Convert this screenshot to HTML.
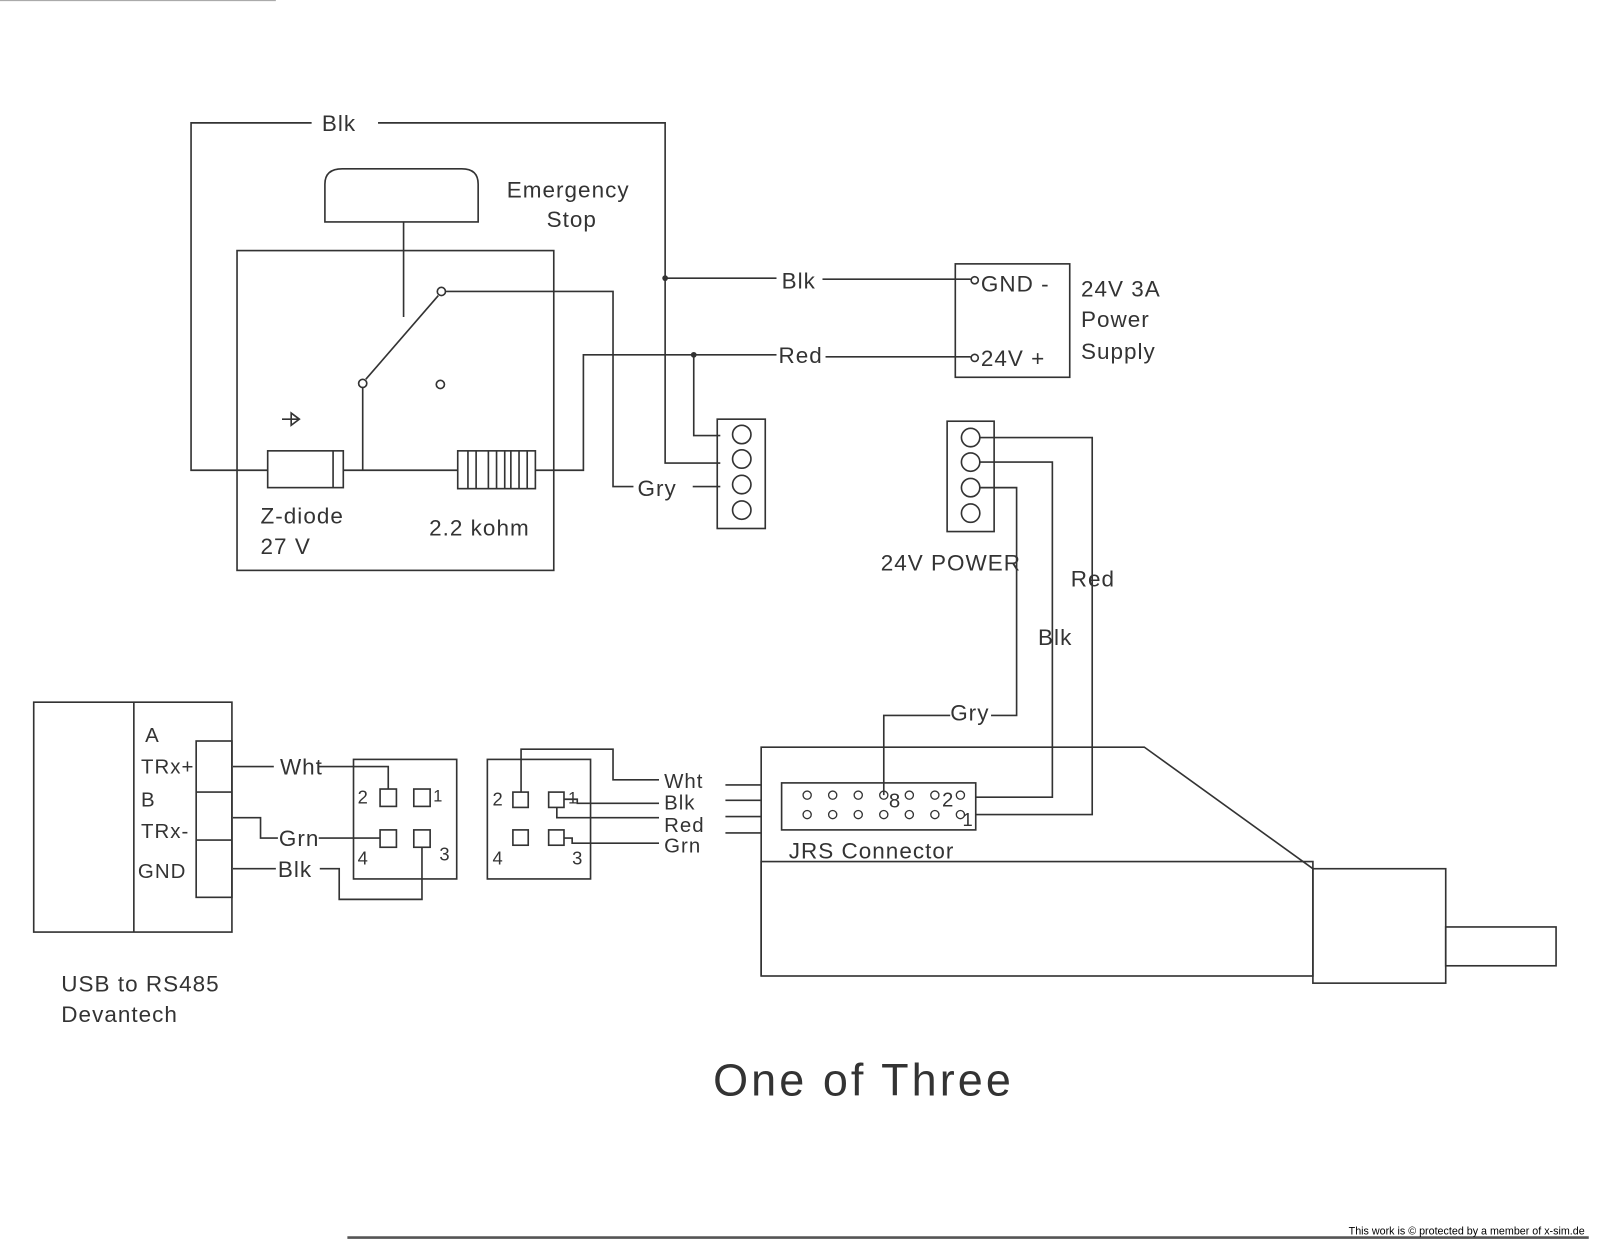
<!DOCTYPE html>
<html><head><meta charset="utf-8"><style>
html,body{margin:0;padding:0;background:#fff;}
svg{display:block}
text{font-family:"Liberation Sans",sans-serif;fill:#333;font-weight:normal}
.t{font-size:22px;letter-spacing:1px}
</style></head><body>
<svg width="1600" height="1246" viewBox="0 0 1566 1219" xmlns="http://www.w3.org/2000/svg">
<g fill="none" stroke="#333" stroke-width="1.6">
<polyline points="305,120 187,120 187,460 262,460"/>
<polyline points="370,120 651,120 651,453 705,453"/>
<polyline points="651,272 760,272"/>
<polyline points="805,273 950,273"/>
<circle cx="651" cy="272" r="2" fill="#333"/>
<path d="M318,217 L318,180 Q318,165 335,165 L452,165 Q468,165 468,180 L468,217 Z"/>
<line x1="395" y1="217" x2="395" y2="310"/>
<rect x="232" y="245" width="310" height="313"/>
<circle cx="432" cy="285" r="4"/>
<line x1="429" y1="289" x2="358" y2="371"/>
<circle cx="355" cy="375" r="4"/>
<circle cx="431" cy="376" r="4"/>
<polyline points="436,285 600,285 600,476 620,476"/>
<line x1="678" y1="476" x2="705" y2="476"/>
<line x1="355" y1="379" x2="355" y2="460"/>
<rect x="262" y="441" width="74" height="36"/>
<line x1="326" y1="441" x2="326" y2="477"/>
<line x1="336" y1="460" x2="448" y2="460"/>
<path d="M276,410 L292,410 M285,404 L285,416 L293,410 Z"/>
<rect x="448" y="441" width="76" height="37"/>
<path d="M458,441V478 M466,441V478 M478,441V478 M486,441V478 M494,441V478 M500,441V478 M508,441V478 M516,441V478"/>
<polyline points="524,460 571,460 571,347 760,347"/>
<line x1="808" y1="349" x2="950" y2="349"/>
<circle cx="679" cy="347" r="2" fill="#333"/>
<polyline points="679,347 679,426 705,426"/>
<rect x="702" y="410" width="47" height="107"/>
<circle cx="726" cy="425" r="9"/><circle cx="726" cy="449" r="9"/><circle cx="726" cy="474" r="9"/><circle cx="726" cy="499" r="9"/>
<rect x="935" y="258" width="112" height="111"/>
<circle cx="954" cy="274" r="3.5"/><circle cx="954" cy="350" r="3.5"/>
<rect x="927" y="412" width="46" height="108"/>
<circle cx="950" cy="428" r="9"/><circle cx="950" cy="452" r="9"/><circle cx="950" cy="477" r="9"/><circle cx="950" cy="502" r="9"/>
<polyline points="959,428 1069,428 1069,797 955,797"/>
<polyline points="959,452 1030,452 1030,780 955,780"/>
<polyline points="959,477 995,477 995,700 970,700"/>
<polyline points="930,700 865,700 865,778"/>
<polyline points="745,955 745,731 1120,731 1285,850"/>
<rect x="745" y="843" width="540" height="112"/>
<rect x="1285" y="850" width="130" height="112"/>
<rect x="1415" y="907" width="108" height="38"/>
<rect x="765" y="766" width="190" height="46"/>
<g stroke-width="1.3">
<circle cx="790" cy="778" r="4"/><circle cx="815" cy="778" r="4"/><circle cx="840" cy="778" r="4"/><circle cx="865" cy="778" r="4"/><circle cx="890" cy="778" r="4"/><circle cx="915" cy="778" r="4"/><circle cx="940" cy="778" r="4"/>
<circle cx="790" cy="797" r="4"/><circle cx="815" cy="797" r="4"/><circle cx="840" cy="797" r="4"/><circle cx="865" cy="797" r="4"/><circle cx="890" cy="797" r="4"/><circle cx="915" cy="797" r="4"/><circle cx="940" cy="797" r="4"/>
</g>
<path d="M710,768H745 M710,783H745 M710,799H745 M710,815H745"/>
<rect x="477" y="743" width="101" height="117"/>
<rect x="502" y="775" width="15" height="15"/><rect x="537" y="775" width="15" height="15"/>
<rect x="502" y="812" width="15" height="15"/><rect x="537" y="812" width="15" height="15"/>
<polyline points="510,775 510,733 600,733 600,763 645,763"/>
<polyline points="545,790 545,800 645,800"/>
<polyline points="552,782 565,782 565,786 645,786"/>
<polyline points="552,820 560,820 560,825 645,825"/>
<rect x="346" y="743" width="101" height="117"/>
<rect x="372" y="772" width="16" height="17"/><rect x="405" y="772" width="16" height="17"/>
<rect x="372" y="812" width="16" height="17"/><rect x="405" y="812" width="16" height="17"/>
<line x1="228" y1="750" x2="268" y2="750"/>
<polyline points="312,750 380,750 380,772"/>
<polyline points="228,800 255,800 255,820 272,820"/>
<line x1="312" y1="820" x2="372" y2="820"/>
<line x1="228" y1="850" x2="270" y2="850"/>
<polyline points="313,850 332,850 332,880 413,880 413,829"/>
<rect x="33" y="687" width="194" height="225"/>
<line x1="131" y1="687" x2="131" y2="912"/>
<rect x="192" y="725" width="35" height="153"/>
<path d="M192,775H227 M192,822H227"/>
<line x1="340" y1="1211" x2="1555" y2="1211" stroke-width="2.5" stroke="#555"/>
<line x1="0" y1="0" x2="270" y2="0" stroke="#aaa"/>
</g>
<g class="t">
<text x="315" y="128">Blk</text>
<text x="496" y="193">Emergency</text>
<text x="535" y="222">Stop</text>
<text x="765" y="282">Blk</text>
<text x="762" y="355">Red</text>
<text x="624" y="485">Gry</text>
<text x="960" y="285">GND -</text>
<text x="960" y="358">24V +</text>
<text x="1058" y="290">24V 3A</text>
<text x="1058" y="320">Power</text>
<text x="1058" y="351">Supply</text>
<text x="255" y="512">Z-diode</text>
<text x="255" y="542">27 V</text>
<text x="420" y="524">2.2 kohm</text>
<text x="862" y="558">24V POWER</text>
<text x="1048" y="574">Red</text>
<text x="1016" y="631">Blk</text>
<text x="930" y="705">Gry</text>
<text x="870" y="790" style="font-size:20px">8</text>
<text x="922" y="789" style="font-size:20px">2</text>
<text x="942" y="808" style="font-size:18px">1</text>
<text x="772" y="840">JRS Connector</text>
<text x="650" y="771" style="font-size:20px">Wht</text>
<text x="650" y="792" style="font-size:20px">Blk</text>
<text x="650" y="814" style="font-size:20px">Red</text>
<text x="650" y="834" style="font-size:20px">Grn</text>
<text x="482" y="788" style="font-size:18px">2</text>
<text x="556" y="786" style="font-size:16px">1</text>
<text x="482" y="846" style="font-size:18px">4</text>
<text x="560" y="846" style="font-size:18px">3</text>
<text x="350" y="786" style="font-size:18px">2</text>
<text x="424" y="784" style="font-size:16px">1</text>
<text x="350" y="846" style="font-size:18px">4</text>
<text x="430" y="842" style="font-size:18px">3</text>
<text x="274" y="758">Wht</text>
<text x="273" y="828">Grn</text>
<text x="272" y="858">Blk</text>
<text x="142" y="726" style="font-size:20px">A</text>
<text x="138" y="757" style="font-size:20px">TRx+</text>
<text x="138" y="789" style="font-size:20px">B</text>
<text x="138" y="820" style="font-size:20px">TRx-</text>
<text x="135" y="859" style="font-size:20px">GND</text>
<text x="60" y="970">USB to RS485</text>
<text x="60" y="1000">Devantech</text>
<text x="698" y="1072" style="font-size:44px;letter-spacing:3px">One of Three</text>
<text x="1320" y="1208" style="font-size:10.5px;letter-spacing:0;fill:#000">This work is © protected by a member of x-sim.de</text>
</g>
</svg>
</body></html>
